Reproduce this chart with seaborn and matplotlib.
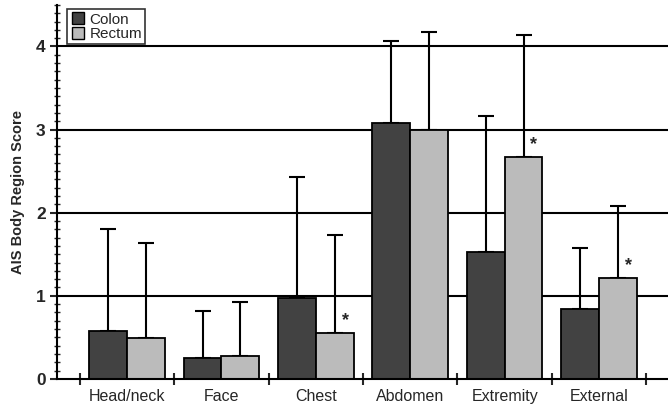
import matplotlib
matplotlib.use("Agg")
import matplotlib.pyplot as plt
from matplotlib.lines import Line2D
from matplotlib.ticker import MultipleLocator
import numpy as np
import pandas as pd
import seaborn as sns

regions = ["Head/neck", "Face", "Chest", "Abdomen", "Extremity", "External"]
colon_mean = [0.58, 0.25, 0.97, 3.08, 1.53, 0.84]
colon_sd = [1.22, 0.57, 1.46, 0.98, 1.63, 0.73]
rectum_mean = [0.49, 0.28, 0.55, 2.99, 2.67, 1.21]
rectum_sd = [1.14, 0.64, 1.18, 1.18, 1.47, 0.87]
significant = ["Chest", "Extremity", "External"]

df = pd.DataFrame({
    "region": regions * 2,
    "site": ["Colon"] * 6 + ["Rectum"] * 6,
    "score": colon_mean + rectum_mean,
    "sd": colon_sd + rectum_sd,
})

sns.set_style("white")
plt.rcParams["font.family"] = ["Liberation Sans", "DejaVu Sans"]

fig = plt.figure(figsize=(6.68, 4.07), dpi=100)
ax = fig.add_axes([0.085, 0.069, 0.915, 0.919])

for y in [1, 2, 3, 4]:
    ax.axhline(y, color="black", lw=1.5, zorder=0)

palette = {"Colon": "#424242", "Rectum": "#bbbbbb"}
sns.barplot(data=df, x="region", y="score", hue="site", palette=palette,
            edgecolor="black", linewidth=1.3, saturation=1, width=0.8,
            errorbar=None, legend=False, ax=ax, zorder=2)

# upper-only error bars, asterisks over significant rectum bars
for cont, site in zip(ax.containers, ["Colon", "Rectum"]):
    sub = df[df.site == site]
    xs = [p.get_x() + p.get_width() / 2 for p in cont.patches]
    ax.errorbar(xs, sub.score, yerr=[np.zeros(len(sub)), sub.sd], fmt="none",
                ecolor="black", elinewidth=1.5, capsize=6, capthick=1.5, zorder=1)
    if site == "Rectum":
        for x, r, m in zip(xs, sub.region, sub.score):
            if r in significant:
                ax.text(x + 0.11, m + 0.05, "*", fontsize=13, fontweight="bold",
                        ha="center", va="bottom")

ax.set_ylim(0, 4.5)
ax.set_xlim(-0.744, 5.73)
ax.yaxis.set_major_locator(MultipleLocator(1))
ax.yaxis.set_minor_locator(MultipleLocator(0.1))
ax.set_yticks([0, 1, 2, 3, 4])
ax.tick_params(axis="y", which="major", direction="out", length=5, width=1.5,
               labelsize=12.5, left=True, pad=3)
ax.tick_params(axis="y", which="minor", direction="inout", length=5, width=1,
               left=True)
ax.set_xticks(np.arange(len(regions)))
ax.set_xticklabels(regions, fontsize=11.5)
ax.set_xticks(np.arange(len(regions) + 1) - 0.5, minor=True)
ax.tick_params(axis="x", which="major", length=0, pad=7)
ax.tick_params(axis="x", which="minor", direction="inout", length=8, width=1.5,
               bottom=True)
for lab in ax.get_yticklabels():
    lab.set_fontweight("bold")

ax.set_xlabel("")
ax.set_ylabel("AIS Body Region Score", fontsize=10.5, fontweight="bold", labelpad=8)
for side in ["top", "right"]:
    ax.spines[side].set_visible(False)
for side in ["left", "bottom"]:
    ax.spines[side].set_color("black")
    ax.spines[side].set_linewidth(1.5)

handles = [Line2D([], [], marker="s", ls="none", markersize=9,
                  markerfacecolor=palette[k], markeredgecolor="black", label=k)
           for k in ["Colon", "Rectum"]]
leg = ax.legend(handles=handles, loc="upper left", bbox_to_anchor=(0.01, 1.0),
                fontsize=11, frameon=True, fancybox=False, handletextpad=0.25,
                borderpad=0.2, labelspacing=0.05, handlelength=1.0,
                borderaxespad=0.3)
leg.get_frame().set_edgecolor("black")
leg.get_frame().set_linewidth(1.2)
leg.set_zorder(5)

fig.savefig("out.png", dpi=100)
